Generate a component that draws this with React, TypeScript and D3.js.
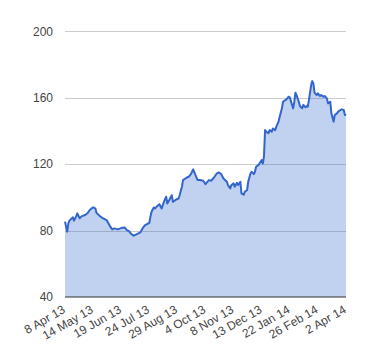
import React from "react";
import * as d3 from "d3";

// trading-day index (0 = 8 Apr 13, 250 = 2 Apr 14) and price
const days = [0, 1, 2, 3, 4, 7, 8, 10, 11, 13, 15, 18, 20, 22, 25, 27, 28, 31, 34, 37, 40, 42, 44, 47, 50, 53, 55, 57, 59, 61, 64, 67, 69, 71, 73, 75, 76, 77, 79, 80, 82, 84, 86, 88, 90, 91, 93, 95, 96, 99, 101, 102, 104, 105, 108, 110, 112, 114, 116, 118, 120, 123, 125, 128, 130, 133, 135, 137, 139, 141, 144, 145, 147, 148, 150, 151, 153, 154, 156, 157, 159, 160, 162, 163, 165, 166, 168, 169, 170, 172, 173, 175, 176, 177, 178, 179, 181, 182, 184, 185, 187, 188, 190, 191, 193, 194, 196, 197, 199, 200, 202, 203, 204, 205, 206, 208, 209, 211, 212, 214, 215, 216, 217, 219, 220, 221, 222, 224, 225, 227, 228, 230, 231, 233, 234, 236, 237, 239, 240, 242, 243, 245, 246, 248, 249, 250];
const prices = [85.4, 82.3, 79.3, 84.5, 86, 88, 86, 88.7, 90.4, 87.4, 88.7, 89.4, 90.4, 92.4, 94, 93.4, 90.7, 88.7, 87.3, 86.3, 82.7, 80.7, 81.3, 80.7, 81.5, 81.9, 80.3, 79.7, 77.9, 76.9, 77.9, 78.9, 81.3, 83.1, 83.9, 84.7, 88.3, 91.3, 93.9, 93.3, 94.7, 95.9, 93.3, 97.3, 100.4, 96.3, 98.7, 101.3, 97.3, 98.7, 99.3, 101.3, 106.4, 110.4, 111.8, 112.4, 114, 116.9, 113.5, 110.4, 110.4, 110, 108, 110.4, 110, 112.4, 114.4, 115, 114, 111.4, 109.4, 107.4, 105.4, 107.4, 108.4, 106.4, 108.8, 107.4, 109.4, 102.4, 101.6, 103.4, 104.4, 109.4, 114.4, 115.4, 114, 115.4, 118.4, 119.4, 120.4, 122.4, 120.4, 124.5, 140.5, 139.6, 138.6, 140.5, 139.6, 141.5, 140.5, 142.6, 145.6, 148.6, 153.6, 157.6, 158.6, 159, 160.6, 160.2, 155.6, 153.6, 157.6, 163, 161.6, 157.6, 155, 153.6, 155.6, 154.2, 155, 154.6, 158.6, 167.6, 170, 168.6, 163, 161.6, 162.6, 161, 161.6, 160.6, 161, 159.6, 156.6, 157.6, 150.6, 145.6, 149.6, 150.6, 151.6, 152.6, 153, 152.6, 149.6, 150.2];

const xLabels = ["8 Apr 13", "14 May 13", "19 Jun 13", "24 Jul 13", "29 Aug 13", "4 Oct 13", "8 Nov 13", "13 Dec 13", "22 Jan 14", "26 Feb 14", "2 Apr 14"];
const labelDays = [0, 25, 50, 75, 100, 125, 150, 175, 200, 225, 250];
const yTicks = [40, 80, 120, 160, 200];

export default function App() {
  const W = 380, H = 360;
  const x = d3.scaleLinear().domain([0, 250]).range([65, 346]);
  const y = d3.scaleLinear().domain([40, 200]).range([297, 31.3]);
  const pts = days.map((d, i) => [d, prices[i]] as [number, number]);
  const line = d3.line<[number, number]>().x(d => x(d[0])).y(d => y(d[1]));
  const area = d3.area<[number, number]>().x(d => x(d[0])).y0(y(40)).y1(d => y(d[1]));
  const font = "Arial, 'Liberation Sans', sans-serif";
  return (
    <svg width={W} height={H} style={{ position: "absolute", left: 0, top: 0, background: "#fff" }}>
      {yTicks.filter(t => t !== 40).map(t => (
        <line key={t} x1={65} x2={346} y1={Math.round(y(t)) + 0.5} y2={Math.round(y(t)) + 0.5} stroke="#cccccc" strokeWidth={1} />
      ))}
      <path d={area(pts) || ""} fill="#3366cc" fillOpacity={0.3} />
      <path d={line(pts) || ""} fill="none" stroke="#3366cc" strokeWidth={2} strokeLinejoin="round" />
      <line x1={65} x2={346} y1={y(40)} y2={y(40)} stroke="#333" strokeWidth={1.2} />
      {yTicks.map(t => (
        <text key={t} x={53} y={y(t)} dy="0.35em" textAnchor="end" fontFamily={font} fontSize={12} fill="#444">{t}</text>
      ))}
      {xLabels.map((l, i) => (
        <text key={l} transform={`translate(${x(labelDays[i]) + 1},${312}) rotate(-30)`} textAnchor="end" fontFamily={font} fontSize={12} fill="#444">{l}</text>
      ))}
    </svg>
  );
}
